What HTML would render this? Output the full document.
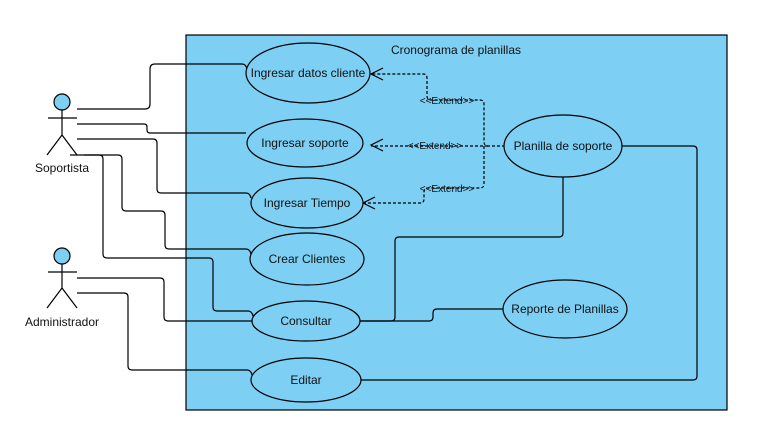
<!DOCTYPE html>
<html><head><meta charset="utf-8"><style>
html,body{margin:0;padding:0;background:#fff;}
svg{display:block;font-family:"Liberation Sans",Arial,sans-serif;}
</style></head><body>
<svg width="774" height="427" viewBox="0 0 774 427" xmlns="http://www.w3.org/2000/svg">
<rect x="186" y="35" width="541" height="375" fill="#7dcff4" stroke="#000" stroke-width="1.2"/>
<text x="456" y="54" font-size="12" text-anchor="middle" fill="#111">Cronograma de planillas</text>
<g fill="none" stroke="#000" stroke-width="1.2">
<circle cx="62" cy="102" r="8" fill="#7dcff4"/>
<path d="M62 110V135M48 118H77M62 135L47 155M62 135L77 155"/>
<circle cx="62" cy="256" r="8" fill="#7dcff4"/>
<path d="M62 264V288M48 272H77M62 288L47 308M62 288L77 308"/>
<path d="M77 109H145Q150 109 150 104V69Q150 64 155 64H242Q246 64 247 69"/>
<path d="M77 124H144Q147 124 147 127V130Q147 133 150 133H246"/>
<path d="M77 139H153Q157 139 157 143V189Q157 193 161 193H246Q250 193 251 198"/>
<path d="M70 155H118Q122 155 122 159V207Q122 211 126 211H161Q165 211 165 215V245Q165 249 169 249H246Q250 249 251 254"/>
<path d="M84 155H99Q103 155 103 159V254Q103 258 107 258H209Q213 258 213 262V307Q213 311 217 311H248Q252 311 253 316"/>
<path d="M77 278H160Q164 278 164 282V317Q164 321 168 321H252"/>
<path d="M77 293H124Q128 293 128 297V366Q128 370 132 370H247Q251 370 252 375"/>
<path d="M622 146H693Q697 146 697 150V376Q697 380 693 380H361"/>
<path d="M563 177V233Q563 237 559 237H399Q395 237 395 241V317Q395 321 391 321H360"/>
<path d="M503 309H437Q433 309 433 313V317Q433 321 429 321H360"/>
<g stroke-dasharray="3,2">
<path d="M505 146H488Q484 146 484 142V104Q484 100 480 100H431Q427 100 427 96V78Q427 74 423 74H371"/>
<path d="M488 146H371"/>
<path d="M484 146V184Q484 188 480 188H428Q424 188 424 192V199Q424 203 420 203H363"/>
</g>
<path d="M383 68L371 74L383 80M383 139L371 145L383 151M375 197L363 203L375 209"/>
<g fill="#7dcff4">
<ellipse cx="308" cy="73" rx="62" ry="30"/>
<ellipse cx="305" cy="143" rx="58" ry="24"/>
<ellipse cx="307" cy="203" rx="56" ry="25"/>
<ellipse cx="307" cy="259" rx="57" ry="26"/>
<ellipse cx="306" cy="321" rx="54" ry="20"/>
<ellipse cx="306" cy="380" rx="55" ry="22"/>
<ellipse cx="563" cy="146" rx="59" ry="31"/>
<ellipse cx="565" cy="309" rx="62" ry="29"/>
</g>
</g>
<g font-size="12" text-anchor="middle" fill="#111">
<text x="308" y="77">Ingresar datos cliente</text>
<text x="305" y="147">Ingresar soporte</text>
<text x="307" y="207">Ingresar Tiempo</text>
<text x="307" y="263">Crear Clientes</text>
<text x="306" y="325">Consultar</text>
<text x="306" y="384">Editar</text>
<text x="563" y="150">Planilla de soporte</text>
<text x="565" y="313">Reporte de Planillas</text>
<text x="62" y="172">Soportista</text>
<text x="62" y="326">Administrador</text>
</g>
<g font-size="10" text-anchor="middle" fill="#111">
<text x="447" y="104">&lt;&lt;Extend&gt;&gt;</text>
<text x="435" y="149">&lt;&lt;Extend&gt;&gt;</text>
<text x="447" y="192">&lt;&lt;Extend&gt;&gt;</text>
</g>
</svg>
</body></html>
